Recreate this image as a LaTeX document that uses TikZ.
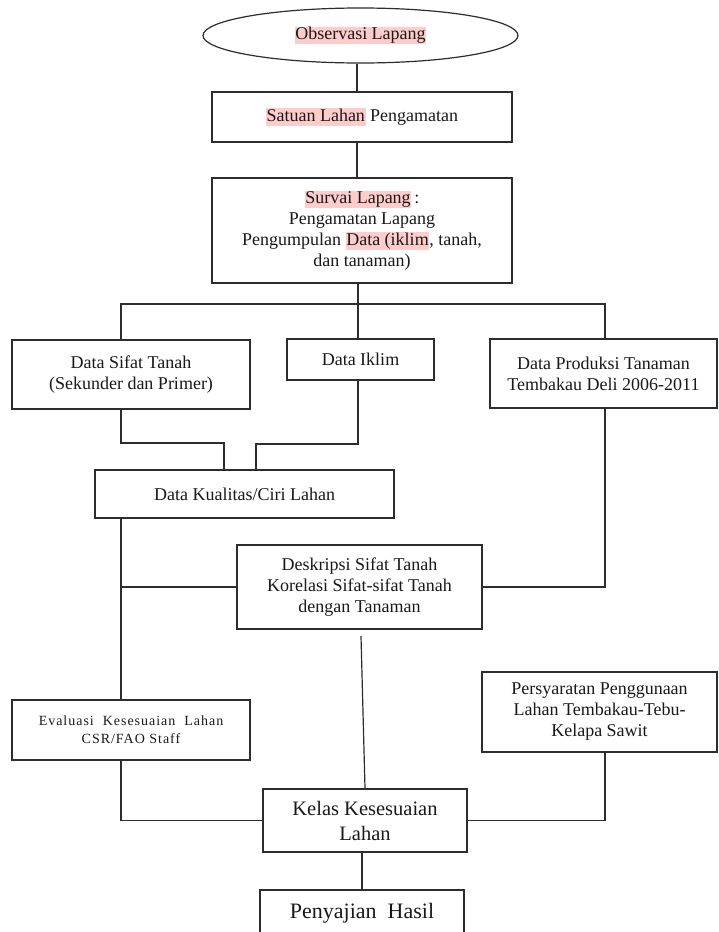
\documentclass[tikz,border=0pt]{standalone}
\usepackage{fontspec}
\setmainfont{Liberation Serif}
\usetikzlibrary{shapes.geometric}
\definecolor{hlpink}{RGB}{255,204,204}
\definecolor{ln}{RGB}{45,45,45}
\definecolor{txt}{RGB}{25,25,25}
\newcommand{\hlp}[1]{{\setlength{\fboxsep}{0.6pt}\colorbox{hlpink}{\vphantom{Ayg}#1}}}
\tikzset{
  box/.style={draw=ln, line width=1.2bp, rectangle, align=center, inner sep=0pt,
    text=txt, font=\fontsize{18bp}{21bp}\selectfont},
  conn/.style={draw=ln, line width=1.2bp},
}
\begin{document}
\begin{tikzpicture}[x=1bp,y=-1bp]
\useasboundingbox (0,0) rectangle (719,932);
\clip (0,0) rectangle (719,932);
\fill[white] (0,0) rectangle (719,932);

% nodes
\node[box, ellipse, minimum width=315bp, minimum height=55bp] (ell) at (360.5,35.5) {\hlp{Observasi Lapang}};
\node[box, minimum width=300bp, minimum height=50bp] (b1) at (362,117) {\hlp{Satuan Lahan} Pengamatan};
\node[box, minimum width=300bp, minimum height=105bp] (b2) at (362,230.5)
  {\hlp{Survai Lapang}\,:\\Pengamatan Lapang\\Pengumpulan \hlp{Data (iklim}, tanah,\\dan tanaman)};
\node[box, minimum width=238bp, minimum height=69bp] (sifat) at (131,374.5) {Data Sifat Tanah\\(Sekunder dan Primer)};
\node[box, minimum width=147bp, minimum height=41bp] (iklim) at (360.5,359.5) {Data Iklim};
\node[box, minimum width=227bp, minimum height=69bp] (prod) at (603.5,373.5) {Data Produksi Tanaman\\Tembakau Deli 2006-2011};
\node[box, minimum width=299bp, minimum height=48bp] (kual) at (244.5,494) {Data Kualitas/Ciri Lahan};
\node[box, minimum width=245bp, minimum height=84bp] (desk) at (359.5,587) {Deskripsi Sifat Tanah\\Korelasi Sifat-sifat Tanah\\dengan Tanaman};
\node[box, minimum width=238bp, minimum height=60bp, font=\fontsize{14bp}{18bp}\selectfont\addfontfeature{LetterSpace=7}] (eval) at (131,730)
  {Evaluasi \ Kesesuaian \ Lahan\\CSR/FAO Staff};
\node[box, minimum width=235bp, minimum height=80bp] (pers) at (599.5,712) {Persyaratan Penggunaan\\Lahan Tembakau-Tebu-\\Kelapa Sawit};
\node[box, minimum width=204bp, minimum height=63bp, font=\fontsize{20.5bp}{25bp}\selectfont] (kelas) at (365,820.5) {Kelas Kesesuaian\\Lahan};
\node[box, minimum width=204bp, minimum height=56bp, text height=12bp, text depth=12bp, font=\fontsize{22bp}{26bp}\selectfont] (peny) at (362,918) {Penyajian\ \ Hasil};

% coordinates
\coordinate (xL) at (121,0);
\coordinate (xC) at (358,0);
\coordinate (xR) at (605,0);
\coordinate (xT) at (357,0);
\coordinate (busy) at (0,304);
\coordinate (j1) at (224,443);
\coordinate (j2) at (256,444);
\coordinate (dgap) at (361,636);

% connectors
\draw[conn] (ell.south -| xT) -- (b1.north -| xT);
\draw[conn] (b1.south -| xT) -- (b2.north -| xT);
\draw[conn] (b2.south -| xC) -- (iklim.north -| xC);
\draw[conn] (sifat.north -| xL) -- (xL |- busy) -- (xR |- busy) -- (prod.north -| xR);
\draw[conn] (sifat.south -| xL) |- (j1) -- (kual.north -| j1);
\draw[conn] (iklim.south -| xC) |- (j2) -- (kual.north -| j2);
\draw[conn] (kual.south -| xL) -- (eval.north -| xL);
\draw[conn] (desk.west -| xL) -- (desk.west);
\draw[conn] (desk.east) -| (prod.south -| xR);
\draw[conn] (dgap) -- (kelas.north);
\draw[conn] (eval.south -| xL) |- (kelas.west);
\draw[conn] (kelas.east) -| (pers.south -| xR);
\draw[conn] (kelas.south -| peny.north) -- (peny.north);
\end{tikzpicture}
\end{document}
